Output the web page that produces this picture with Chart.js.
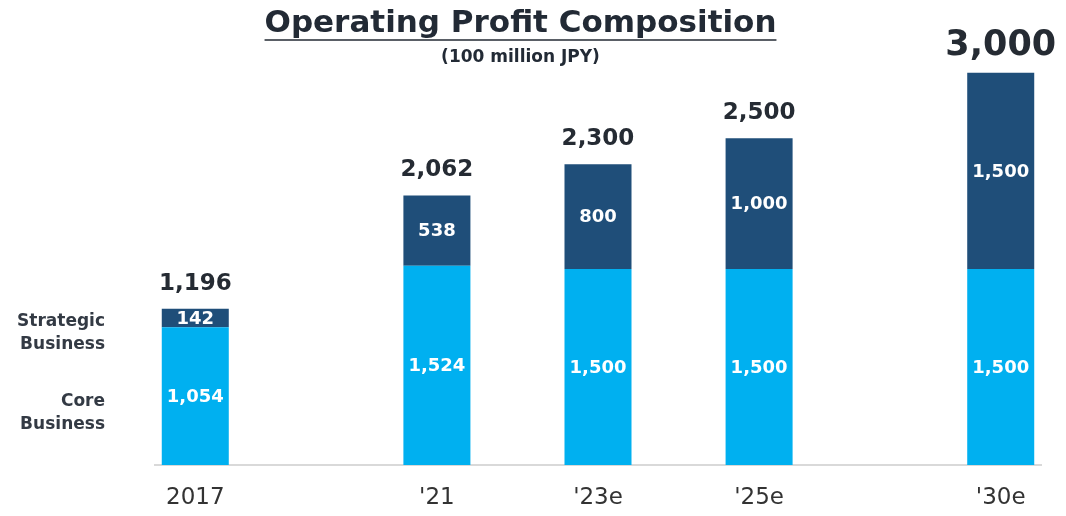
<!DOCTYPE html>
<html>
<head>
<meta charset="utf-8">
<script src="https://cdn.jsdelivr.net/npm/chart.js@4/dist/chart.umd.min.js"></script>
<style>
  html, body { margin: 0; padding: 0; background: #ffffff; }
  #wrap { width: 1066px; height: 516px; position: relative; }
</style>
</head>
<body>
<div id="wrap"><canvas id="c" width="1066" height="516"></canvas></div>
<script>
// ---- data ----
const categories = ["2017", "'21", "'23e", "'25e", "'30e"];
const coreBusiness = [1054, 1524, 1500, 1500, 1500];
const strategicBusiness = [142, 538, 800, 1000, 1500];
const seriesNames = ["Core Business", "Strategic Business"];
const chartTitle = "Operating Profit Composition";
const chartSubtitle = "(100 million JPY)";

// ---- layout: category slots (gaps between periods) ----
const slotOf = [0, 3, 5, 7, 10];
const slotCount = 11;
const slotLabels = new Array(slotCount).fill('');
const coreSlots = new Array(slotCount).fill(null);
const stratSlots = new Array(slotCount).fill(null);
categories.forEach((c, i) => {
  slotLabels[slotOf[i]] = c;
  coreSlots[slotOf[i]] = coreBusiness[i];
  stratSlots[slotOf[i]] = strategicBusiness[i];
});

const FONT = "'DejaVu Sans', Verdana, sans-serif";
const fmt = v => v.toLocaleString('en-US');

const labelPlugin = {
  id: 'labels',
  afterDatasetsDraw(chart) {
    const ctx = chart.ctx;
    ctx.save();
    ctx.textAlign = 'center';
    ctx.textBaseline = 'middle';
    // inside labels
    chart.data.datasets.forEach((ds, di) => {
      const meta = chart.getDatasetMeta(di);
      meta.data.forEach((el, i) => {
        const v = ds.data[i];
        if (v == null) return;
        ctx.fillStyle = '#ffffff';
        ctx.font = 'bold 18px ' + FONT;
        ctx.fillText(fmt(v), el.x, (el.y + el.base) / 2 + 1);
      });
    });
    // totals
    const top = chart.getDatasetMeta(1);
    let k = 0;
    top.data.forEach((el, i) => {
      if (chart.data.datasets[1].data[i] == null) return;
      const total = chart.data.datasets[0].data[i] + chart.data.datasets[1].data[i];
      const isLast = k === categories.length - 1;
      ctx.fillStyle = '#252b33';
      ctx.font = 'bold ' + (isLast ? 35 : 23) + 'px ' + FONT;
      ctx.fillText(fmt(total), el.x, el.y - (isLast ? 27 : 25));
      k++;
    });
    // series names at left, next to first bar
    const area = chart.chartArea;
    ctx.textAlign = 'right';
    ctx.font = 'bold 17px ' + FONT;
    ctx.fillStyle = '#333a44';
    chart.data.datasets.forEach((ds, di) => {
      const el = chart.getDatasetMeta(di).data[slotOf[0]];
      const cy = (el.y + el.base) / 2 + (di === 0 ? 17 : 15);
      const words = seriesNames[di].split(' ');
      const lh = 23;
      words.forEach((w, j) => {
        ctx.fillText(w, area.left - 50, cy + (j - (words.length - 1) / 2) * lh);
      });
    });
    ctx.restore();
  },
  afterDraw(chart) {
    // underline the title
    const tb = chart.titleBlock;
    if (!tb) return;
    const ctx = chart.ctx;
    ctx.save();
    ctx.font = 'bold 31px ' + FONT;
    const w = ctx.measureText(chartTitle).width;
    const cx = (tb.left + tb.right) / 2;
    const y = tb.top + tb.height / 2 + 1 + 18;
    ctx.strokeStyle = '#5a5f66';
    ctx.lineWidth = 2;
    ctx.beginPath();
    ctx.moveTo(cx - w / 2, y);
    ctx.lineTo(cx + w / 2, y);
    ctx.stroke();
    ctx.restore();
  }
};

new Chart(document.getElementById('c'), {
  type: 'bar',
  data: {
    labels: slotLabels,
    datasets: [
      { label: seriesNames[0], data: coreSlots, backgroundColor: '#00b0f0', borderWidth: 0 },
      { label: seriesNames[1], data: stratSlots, backgroundColor: '#1f4e79', borderWidth: 0 }
    ]
  },
  plugins: [labelPlugin],
  options: {
    responsive: false,
    animation: false,
    devicePixelRatio: 1,
    layout: { padding: { left: 0, right: 25, top: 0, bottom: 0 } },
    datasets: { bar: { categoryPercentage: 1, barPercentage: 0.832 } },
    plugins: {
      legend: { display: false },
      tooltip: { enabled: false },
      title: {
        display: true, text: chartTitle, color: '#222a35',
        font: { family: FONT, size: 31, weight: 'bold', lineHeight: 1.2 },
        padding: { top: 5, bottom: 0 }
      },
      subtitle: {
        display: true, text: chartSubtitle, color: '#222a35',
        font: { family: FONT, size: 17, weight: 'bold', lineHeight: 1.2 },
        padding: { top: 5, bottom: 0 }
      }
    },
    scales: {
      x: {
        stacked: true,
        grid: { display: false, drawTicks: false },
        border: { display: true, color: '#d9d9d9', width: 2 },
        ticks: { color: '#333333', font: { family: FONT, size: 23, lineHeight: 1.2 }, padding: 19, autoSkip: false, maxRotation: 0 },
        afterFit(scale) { scale.height = 51; }
      },
      y: {
        stacked: true, display: true, min: 0, max: 3040,
        grid: { display: false, drawTicks: false },
        border: { display: false },
        ticks: { display: false },
        afterFit(scale) { scale.width = 155; }
      }
    }
  }
});
</script>
</body>
</html>
